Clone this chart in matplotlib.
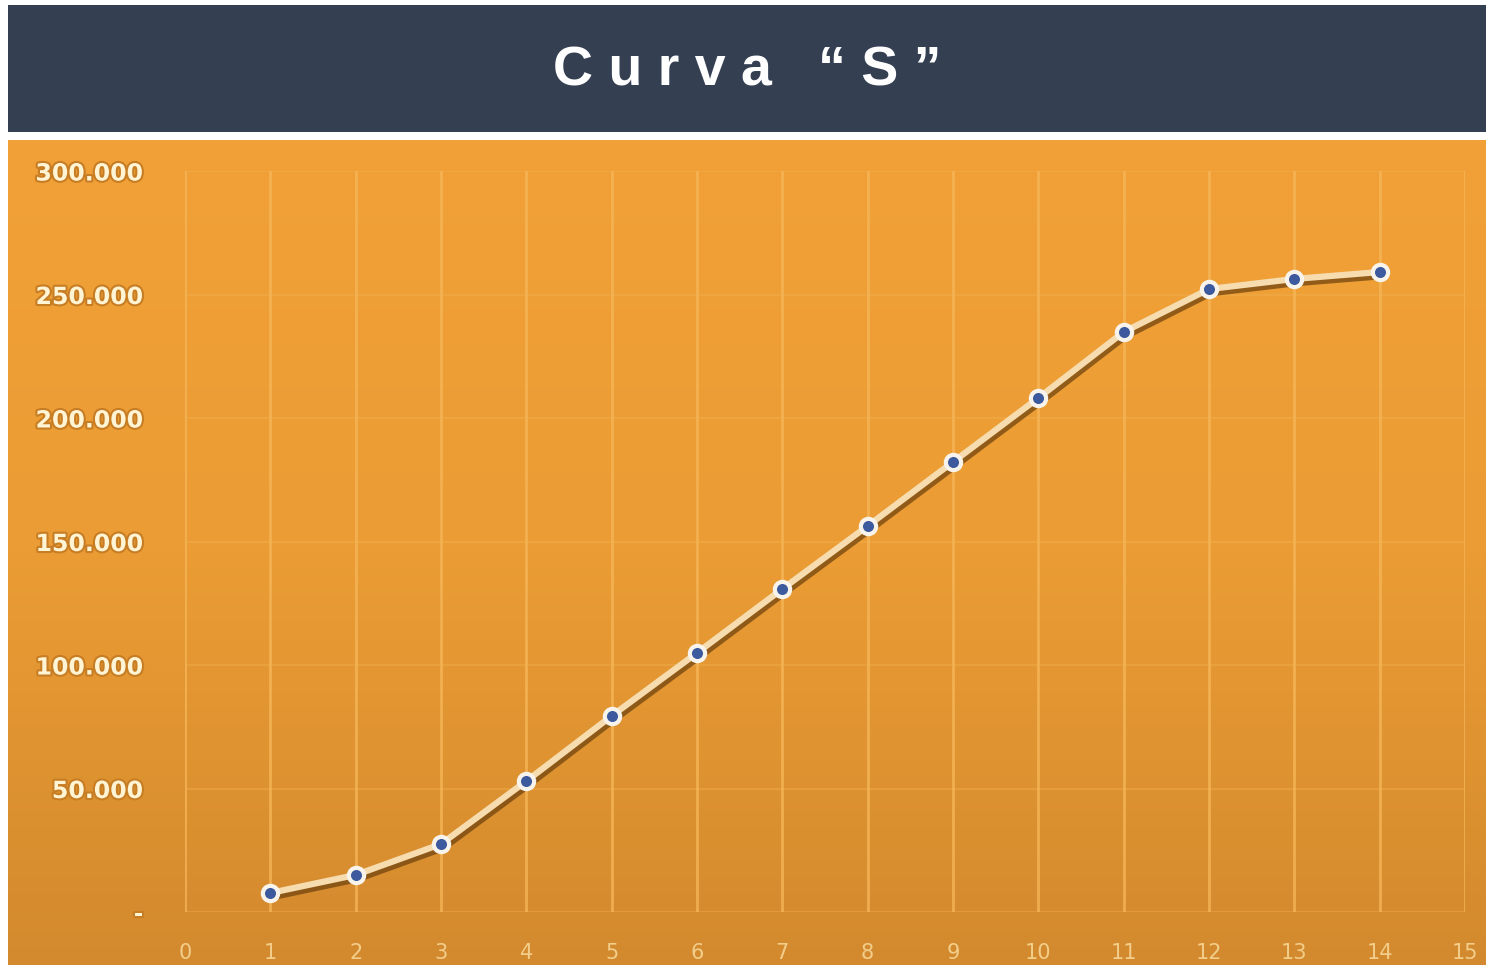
import numpy as np
import matplotlib.pyplot as plt
import matplotlib.patheffects as pe
from matplotlib.patches import Rectangle
from matplotlib.colors import LinearSegmentedColormap
from matplotlib.ticker import FuncFormatter

# datos
semanas = list(range(1, 15))
acumulado = [7700, 15000, 27500, 53000, 79400, 104900, 130800,
             156300, 182200, 208100, 234800, 252200, 256300, 259100]
y_ticks = [0, 50000, 100000, 150000, 200000, 250000, 300000]
x_ticks = list(range(0, 16))


def fmt_miles(v, pos):
    if v == 0:
        return "-"
    return f"{int(v):,}".replace(",", ".")


def main():
    fig = plt.figure(figsize=(14.86, 9.65), dpi=100)
    fig.patch.set_facecolor("white")

    # barra del titulo
    fig.patches.append(Rectangle((8 / 1486, 1 - 132 / 965), 1, 127 / 965,
                                 transform=fig.transFigure,
                                 facecolor="#343f52", zorder=0))
    fig.text(0.503, 1 - 72 / 965, "C u r v a   “ S ”", color="white",
             fontsize=40, fontweight="bold", ha="center", va="center",
             family="Liberation Sans")

    # fondo naranja con degradado
    bg = fig.add_axes([8 / 1486, 0, 1 - 8 / 1486, 1 - 140 / 965])
    grad = np.linspace(0, 1, 256).reshape(-1, 1)
    cmap = LinearSegmentedColormap.from_list("nar", ["#f1a137", "#eb9c34", "#d38a2e"])
    bg.imshow(grad, aspect="auto", cmap=cmap, extent=[0, 1, 0, 1], origin="upper")
    bg.set_axis_off()

    ax = fig.add_axes([185 / 1486, 1 - 912 / 965, 1280 / 1486, 741 / 965])
    ax.patch.set_alpha(0)
    ax.set_xlim(0, 15)
    ax.set_ylim(0, 300000)
    ax.set_xticks(x_ticks)
    ax.set_yticks(y_ticks)
    ax.yaxis.set_major_formatter(FuncFormatter(fmt_miles))
    for s in ax.spines.values():
        s.set_visible(False)
    ax.grid(axis="x", color="#f6b658", lw=2, alpha=0.8)
    ax.grid(axis="y", color="#f6b658", lw=1.2, alpha=0.4)
    ax.set_axisbelow(True)
    ax.tick_params(axis="both", length=0)
    ax.tick_params(axis="y", pad=30, labelsize=17, labelcolor="#fff4d4")
    ax.tick_params(axis="x", pad=22, labelsize=15, labelcolor="#f3cd8a")
    for lbl in ax.get_yticklabels():
        lbl.set_fontweight("bold")
        lbl.set_path_effects([pe.withStroke(linewidth=3, foreground="#c77d24")])

    ax.plot(semanas, acumulado, color="#f6dcae", lw=4.5, zorder=3,
            path_effects=[pe.SimpleLineShadow(offset=(1.5, -3), shadow_color="#6b3f0c", alpha=0.7),
                          pe.Normal()])
    ax.plot(semanas, acumulado, ls="none", marker="o", ms=11,
            markerfacecolor="#3d5a9e", markeredgecolor="#f8f4ec", markeredgewidth=3, zorder=4)

    fig.savefig("out.png", dpi=100)


if __name__ == "__main__":
    main()
